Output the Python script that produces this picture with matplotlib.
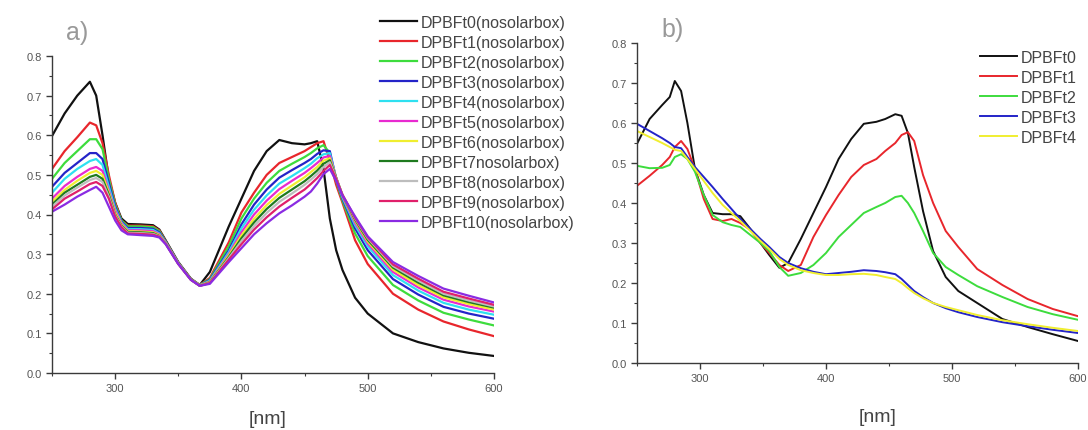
import matplotlib
matplotlib.use("Agg")
import matplotlib.pyplot as plt
from matplotlib.ticker import MultipleLocator, FormatStrFormatter

plt.rcParams['font.family'] = ['Liberation Sans', 'DejaVu Sans']

# ---------------- panel a) : DPBF without solar box ----------------
wl_a = [250, 260, 270, 280, 285, 290, 295, 300, 305, 310, 320, 330, 335, 340, 350,
        360, 367, 375, 390, 400, 410, 420, 430, 440, 450, 455, 460, 465, 470, 475,
        480, 490, 500, 520, 540, 560, 580, 600]

a_t0 = [.598, .655, .70, .735, .70, .60, .49, .43, .39, .376, .375, .373, .362, .335, .28,
        .238, .222, .255, .37, .44, .51, .56, .588, .58, .577, .58, .585, .515, .39, .31,
        .26, .19, .15, .10, .078, .062, .051, .043]
a_t1 = [.515, .56, .595, .632, .625, .58, .50, .43, .385, .372, .372, .37, .36, .333, .278,
        .237, .222, .24, .33, .405, .455, .50, .53, .545, .56, .57, .58, .585, .535, .475,
        .43, .335, .275, .20, .16, .13, .11, .093]
a_t2 = [.49, .53, .56, .59, .59, .565, .49, .425, .385, .37, .37, .368, .358, .332, .278,
        .237, .222, .237, .32, .39, .44, .48, .51, .528, .545, .555, .567, .575, .555, .485,
        .435, .352, .295, .222, .183, .152, .135, .12]
a_t3 = [.47, .505, .53, .555, .555, .54, .48, .42, .382, .366, .366, .364, .355, .331, .277,
        .236, .221, .235, .31, .375, .425, .463, .493, .512, .53, .54, .553, .562, .56, .49,
        .44, .365, .31, .237, .198, .167, .15, .137]
a_t4 = [.455, .49, .515, .535, .54, .525, .47, .415, .38, .363, .363, .361, .352, .33, .277,
        .236, .221, .233, .305, .365, .412, .448, .478, .497, .517, .528, .542, .552, .555, .492,
        .443, .373, .32, .247, .208, .177, .16, .147]
a_t5 = [.44, .472, .495, .515, .52, .51, .46, .41, .378, .36, .36, .358, .35, .329, .277,
        .236, .221, .231, .30, .355, .40, .435, .464, .485, .505, .517, .53, .544, .548, .493,
        .446, .379, .327, .255, .216, .185, .168, .155]
a_t6 = [.432, .462, .485, .505, .51, .50, .455, .405, .375, .358, .357, .355, .348, .328, .276,
        .236, .221, .23, .297, .347, .389, .424, .452, .473, .494, .507, .52, .536, .542, .493,
        .448, .384, .332, .261, .222, .191, .174, .16]
a_t7 = [.425, .455, .475, .495, .50, .49, .45, .40, .372, .356, .355, .353, .346, .327, .276,
        .236, .22, .229, .293, .34, .38, .414, .442, .463, .484, .497, .511, .528, .537, .493,
        .449, .387, .336, .266, .228, .196, .179, .165]
a_t8 = [.42, .448, .468, .487, .492, .482, .445, .398, .37, .354, .353, .351, .345, .327, .276,
        .235, .22, .228, .29, .333, .371, .404, .432, .453, .475, .488, .502, .52, .532, .492,
        .45, .39, .34, .27, .233, .20, .183, .168]
a_t9 = [.413, .44, .458, .477, .482, .472, .44, .395, .368, .352, .351, .349, .344, .326, .275,
        .235, .22, .227, .286, .325, .362, .393, .42, .442, .463, .477, .492, .51, .525, .49,
        .45, .392, .343, .274, .238, .205, .188, .172]
a_t10 = [.407, .425, .445, .462, .47, .455, .42, .385, .36, .35, .348, .346, .342, .325, .275,
         .235, .22, .225, .28, .315, .35, .378, .403, .423, .445, .458, .478, .502, .515, .485,
         .448, .395, .345, .28, .245, .213, .195, .178]

a_labels = ["DPBFt0(nosolarbox)", "DPBFt1(nosolarbox)", "DPBFt2(nosolarbox)",
            "DPBFt3(nosolarbox)", "DPBFt4(nosolarbox)", "DPBFt5(nosolarbox)",
            "DPBFt6(nosolarbox)", "DPBFt7nosolarbox)", "DPBFt8(nosolarbox)",
            "DPBFt9(nosolarbox)", "DPBFt10(nosolarbox)"]
a_colors = ["#111111", "#e8262c", "#3ddc3d", "#2424c8", "#2ee0f0", "#e82ad0",
            "#f0ee30", "#1f7a1f", "#bdbdbd", "#e0206a", "#8a2be2"]
a_series = [a_t0, a_t1, a_t2, a_t3, a_t4, a_t5, a_t6, a_t7, a_t8, a_t9, a_t10]

# ---------------- panel b) ----------------
wl_b = [250, 260, 270, 276, 280, 285, 290, 296, 303, 310, 318, 325, 332, 340, 348,
        355, 363, 370, 380, 390, 400, 410, 420, 430, 440, 447, 455, 460, 465, 470,
        477, 485, 495, 505, 520, 540, 560, 580, 600]

b_t0 = [.548, .61, .645, .665, .705, .68, .60, .485, .42, .375, .372, .372, .367, .335, .30,
        .27, .238, .25, .31, .375, .44, .51, .56, .598, .603, .61, .622, .618, .575, .49,
        .38, .28, .215, .18, .15, .11, .09, .072, .055]
b_t1 = [.443, .468, .495, .515, .54, .555, .535, .485, .41, .36, .355, .36, .35, .333, .30,
        .275, .245, .23, .245, .315, .37, .42, .465, .495, .51, .53, .55, .57, .577, .555,
        .47, .40, .33, .29, .235, .195, .16, .135, .117]
b_t2 = [.493, .487, .488, .495, .515, .522, .51, .478, .42, .37, .352, .345, .34, .32, .30,
        .28, .24, .218, .225, .245, .275, .315, .345, .375, .39, .40, .415, .418, .40, .375,
        .33, .275, .24, .22, .192, .165, .14, .122, .108]
b_t3 = [.598, .58, .562, .55, .54, .537, .515, .49, .465, .44, .41, .385, .36, .335, .31,
        .29, .265, .25, .237, .228, .222, .225, .228, .232, .23, .227, .222, .21, .195, .18,
        .165, .15, .137, .127, .115, .102, .092, .083, .075]
b_t4 = [.58, .565, .55, .54, .533, .53, .51, .485, .455, .425, .395, .375, .355, .33, .305,
        .285, .26, .245, .232, .225, .22, .22, .222, .223, .22, .215, .21, .20, .187, .175,
        .162, .15, .14, .132, .12, .107, .097, .088, .08]

b_labels = ["DPBFt0", "DPBFt1", "DPBFt2", "DPBFt3", "DPBFt4"]
b_colors = ["#111111", "#e8262c", "#3ddc3d", "#2424c8", "#f0ee30"]
b_series = [b_t0, b_t1, b_t2, b_t3, b_t4]

W, H = 1088, 431
fig = plt.figure(figsize=(W / 100, H / 100), dpi=100)

spine_col = "#3a3a3a"
tick_col = "#555555"
text_col = "#444444"


def style_axis(ax):
    ax.set_xlim(250, 600)
    ax.set_ylim(0, 0.8)
    for s in ("top", "right"):
        ax.spines[s].set_visible(False)
    for s in ("left", "bottom"):
        ax.spines[s].set_color(spine_col)
        ax.spines[s].set_linewidth(1.0)
    ax.xaxis.set_major_locator(MultipleLocator(100))
    ax.xaxis.set_minor_locator(MultipleLocator(50))
    ax.yaxis.set_major_locator(MultipleLocator(0.1))
    ax.yaxis.set_minor_locator(MultipleLocator(0.05))
    ax.yaxis.set_major_formatter(FormatStrFormatter("%.1f"))
    ax.set_xticks([300, 400, 500, 600])
    ax.tick_params(which="major", direction="out", length=4, width=1.0,
                   color=spine_col, labelsize=8, labelcolor=tick_col, pad=3)
    ax.tick_params(which="minor", direction="out", length=2.5, width=0.8,
                   color=spine_col)


def px_rect(x0, x1, ytop, ybot):
    return [x0 / W, 1 - ybot / H, (x1 - x0) / W, (ybot - ytop) / H]


ax_a = fig.add_axes(px_rect(52, 494, 57, 374))
ax_b = fig.add_axes(px_rect(637, 1078, 44, 364))

for vals, col, lab in zip(a_series, a_colors, a_labels):
    ax_a.plot(wl_a, vals, color=col, lw=1.6, label=lab)
style_axis(ax_a)

for vals, col, lab in zip(b_series, b_colors, b_labels):
    ax_b.plot(wl_b, vals, color=col, lw=1.4, label=lab)
style_axis(ax_b)

leg_kw = dict(loc="upper left", bbox_transform=fig.transFigure, frameon=False,
              borderpad=0, borderaxespad=0, handlelength=2.3, handletextpad=0.25,
              labelspacing=0.31, fontsize=11.5, labelcolor=text_col)
ax_a.legend(bbox_to_anchor=(380 / W, 1 - 16 / H), **leg_kw)
ax_b.legend(bbox_to_anchor=(980 / W, 1 - 51 / H), **leg_kw)

fig.text(77 / W, 1 - 33 / H, "a)", fontsize=18, color="#999999", ha="center", va="center")
fig.text(673 / W, 1 - 30 / H, "b)", fontsize=18, color="#999999", ha="center", va="center")
fig.text(268 / W, 1 - 420 / H, "[nm]", fontsize=14, color=text_col, ha="center", va="center")
fig.text(878 / W, 1 - 418 / H, "[nm]", fontsize=14, color=text_col, ha="center", va="center")

fig.savefig("out.png", dpi=100)
